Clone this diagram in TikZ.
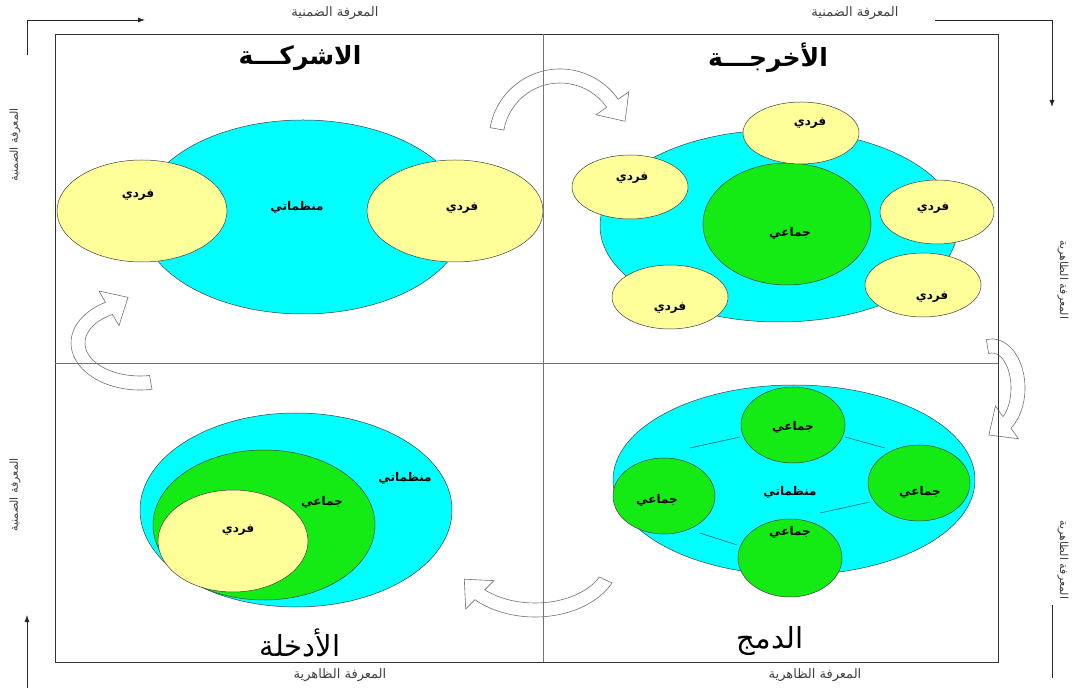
\documentclass[tikz,border=0pt]{standalone}
\usepackage{fontspec}
\usepackage{tikz}
\usetikzlibrary{shapes.geometric,calc,arrows.meta}
\newfontfamily\arabicfont[Script=Arabic]{DejaVu Sans}
\TeXXeTstate=1

\definecolor{orgcyan}{RGB}{0,255,255}
\definecolor{grpgreen}{RGB}{20,235,20}
\definecolor{indyellow}{RGB}{255,255,153}
\definecolor{linkteal}{RGB}{0,90,110}

% curved block arrow, clockwise: centre, x radius, y radius, start, end
\newcommand{\cyclearrow}[5]{%
  \coordinate (ca-base) at ($(#1)+(#5:#2 and #3)$);
  \coordinate (ca-out) at ($(#1)+(#5:#2+20 and #3+20)$);
  \coordinate (ca-in) at ($(#1)+(#5:#2-20 and #3-20)$);
  \coordinate (ca-tip) at ($(ca-base)!22pt!-90:(ca-out)$);
  \draw[cyclearr] ($(#1)+(#4:#2+7 and #3+7)$)
    arc[start angle=#4, end angle=#5, x radius=#2+7, y radius=#3+7]
    -- (ca-out) -- (ca-tip) -- (ca-in)
    -- ($(#1)+(#5:#2-7 and #3-7)$)
    arc[start angle=#5, end angle=#4, x radius=#2-7, y radius=#3-7] -- cycle;}

\begin{document}
\begin{tikzpicture}[
    x=1pt,
    y=1pt,
    sz/.style 2 args={minimum width=#1pt, minimum height=#2pt},
    org/.style={ellipse, draw=black!75, fill=orgcyan, line width=0.5pt, inner sep=0pt, outer sep=0pt},
    grp/.style={ellipse, draw=black!75, fill=grpgreen, line width=0.5pt, inner sep=0pt, outer sep=0pt},
    ind/.style={ellipse, draw=black!75, fill=indyellow, line width=0.5pt, inner sep=0pt, outer sep=0pt},
    lbl/.style={font=\arabicfont\bfseries\fontsize{12}{14}\selectfont, inner sep=1pt},
    phasetitle/.style={font=\arabicfont\bfseries\fontsize{25}{30}\selectfont},
    phasetitlelight/.style={font=\arabicfont\fontsize{29}{34}\selectfont},
    axislbl/.style={font=\arabicfont\fontsize{13}{15}\selectfont, text=black!75},
    sidelbl/.style={font=\arabicfont\fontsize{11}{13}\selectfont, text=black!75},
    link/.style={draw=linkteal, line width=0.6pt},
    frame/.style={draw=black!80, line width=0.9pt},
    divider/.style={draw=black!55, line width=0.9pt},
    axisarrow/.style={draw=black!85, line width=0.8pt, -{Latex[length=7pt,width=5pt]}},
    cyclearr/.style={draw=black!55, fill=white, line width=0.6pt}
  ]
    \useasboundingbox[fill=white] (0,0) rectangle (1081,688);

    % cycle arrows
    \cyclearrow{560,548}{64}{64}{170}{35}
    \cyclearrow{992,300}{26}{42}{100}{-55}
    \cyclearrow{535,130}{78}{52}{-25}{-135}
    \cyclearrow{140,345}{62}{40}{-80}{-240}

    % socialisation
    \node[org, sz={326}{194}] (soc-org) at (303,471) {};
    \node[ind, sz={170}{102}] (soc-indL) at (142,477) {};
    \node[ind, sz={176}{102}] (soc-indR) at (455,477) {};
    \node[lbl] (soc-t1) at (138,493) {\beginR فردي\endR};
    \node[lbl] (soc-t2) at (462,480) {\beginR فردي\endR};
    \node[lbl] (soc-t3) at (297,481) {\beginR منظماتي\endR};

    % externalisation
    \node[org, sz={358}{192}] (ext-org) at (779,462) {};
    \node[grp, sz={168}{122}] (ext-grp) at (787,464) {};
    \node[ind, sz={116}{62}] (ext-ind1) at (801,555) {};
    \node[ind, sz={116}{64}] (ext-ind2) at (630,501) {};
    \node[ind, sz={114}{64}] (ext-ind3) at (937,476) {};
    \node[ind, sz={116}{64}] (ext-ind4) at (923,403) {};
    \node[ind, sz={116}{64}] (ext-ind5) at (670,391) {};
    \node[lbl] (ext-t0) at (790,455) {\beginR جماعي\endR};
    \node[lbl] (ext-t1) at (810,565) {\beginR فردي\endR};
    \node[lbl] (ext-t2) at (632,510) {\beginR فردي\endR};
    \node[lbl] (ext-t3) at (933,480) {\beginR فردي\endR};
    \node[lbl] (ext-t4) at (932,391) {\beginR فردي\endR};
    \node[lbl] (ext-t5) at (670,380) {\beginR فردي\endR};

    % combination
    \node[org, sz={362}{190}] (com-org) at (794,208) {};
    \coordinate (com-g1c) at (793,263);
    \coordinate (com-g2c) at (664,192);
    \coordinate (com-g3c) at (919,205);
    \coordinate (com-g4c) at (790,130);
    \draw[link] ([shift={(26,48)}]com-g2c) -- ([shift={(-53,-12)}]com-g1c);
    \draw[link] ([shift={(52,-12)}]com-g1c) -- ([shift={(-34,35)}]com-g3c);
    \draw[link] ([shift={(30,45)}]com-g4c) -- ([shift={(-49,-19)}]com-g3c);
    \draw[link] ([shift={(36,-37)}]com-g2c) -- ([shift={(-53,13)}]com-g4c);
    \node[grp, sz={104}{76}] (com-g1) at (com-g1c) {};
    \node[grp, sz={102}{76}] (com-g2) at (com-g2c) {};
    \node[grp, sz={102}{76}] (com-g3) at (com-g3c) {};
    \node[grp, sz={104}{78}] (com-g4) at (com-g4c) {};
    \node[lbl] (com-t0) at (790,196) {\beginR منظماتي\endR};
    \node[lbl] (com-t1) at (793,261) {\beginR جماعي\endR};
    \node[lbl] (com-t2) at (657,188) {\beginR جماعي\endR};
    \node[lbl] (com-t3) at (920,196) {\beginR جماعي\endR};
    \node[lbl] (com-t4) at (790,156) {\beginR جماعي\endR};

    % internalisation
    \node[org, sz={312}{194}] (int-org) at (296,178) {};
    \node[grp, sz={222}{150}] (int-grp) at (264,163) {};
    \node[ind, sz={150}{102}] (int-ind) at (233,147) {};
    \node[lbl] (int-t1) at (405,210) {\beginR منظماتي\endR};
    \node[lbl] (int-t2) at (322,186) {\beginR جماعي\endR};
    \node[lbl] (int-t3) at (238,158) {\beginR فردي\endR};

    % frame and quadrants
    \draw[frame] (55,26) rectangle (998,654);
    \draw[divider] (543,26) -- (543,654);
    \draw[divider] (55,325) -- (998,325);

    \node[phasetitle] (soc-title) at (300,630) {\beginR الاشركـــة\endR};
    \node[phasetitle] (ext-title) at (768,630) {\beginR الأخرجـــة\endR};
    \node[phasetitlelight] (int-title) at (300,45) {\beginR الأدخلة\endR};
    \node[phasetitlelight] (com-title) at (770,47) {\beginR الدمج\endR};

    % outer axes
    \node[axislbl] (tacit-t1) at (335,675) {\beginR المعرفة الضمنية\endR};
    \node[axislbl] (tacit-t2) at (855,675) {\beginR المعرفة الضمنية\endR};
    \node[axislbl] (expl-b1) at (340,13) {\beginR المعرفة الظاهرية\endR};
    \node[axislbl] (expl-b2) at (815,13) {\beginR المعرفة الظاهرية\endR};
    \node[sidelbl, rotate=90] (tacit-l1) at (15,543) {\beginR المعرفة الضمنية\endR};
    \node[sidelbl, rotate=90] (tacit-l2) at (15,193) {\beginR المعرفة الضمنية\endR};
    \node[sidelbl, rotate=-90] (expl-r1) at (1063,408) {\beginR المعرفة الظاهرية\endR};
    \node[sidelbl, rotate=-90] (expl-r2) at (1063,128) {\beginR المعرفة الظاهرية\endR};

    \coordinate (tl-a) at (27,633);
    \coordinate (tl-b) at (27,668);
    \coordinate (tl-c) at (145,668);
    \coordinate (tr-a) at (935,668);
    \coordinate (tr-b) at (1052,668);
    \coordinate (tr-c) at (1052,581);
    \coordinate (bl-a) at (27,0);
    \coordinate (bl-b) at (27,73);
    \coordinate (br-a) at (1052,83);
    \coordinate (br-b) at (1052,10);
    \draw[axisarrow] (tl-a) -- (tl-b) -- (tl-c);
    \draw[axisarrow] (tr-a) -- (tr-b) -- (tr-c);
    \draw[axisarrow] (bl-a) -- (bl-b);
    \draw[draw=black!85, line width=0.8pt] (br-a) -- (br-b);
\end{tikzpicture}
\end{document}
